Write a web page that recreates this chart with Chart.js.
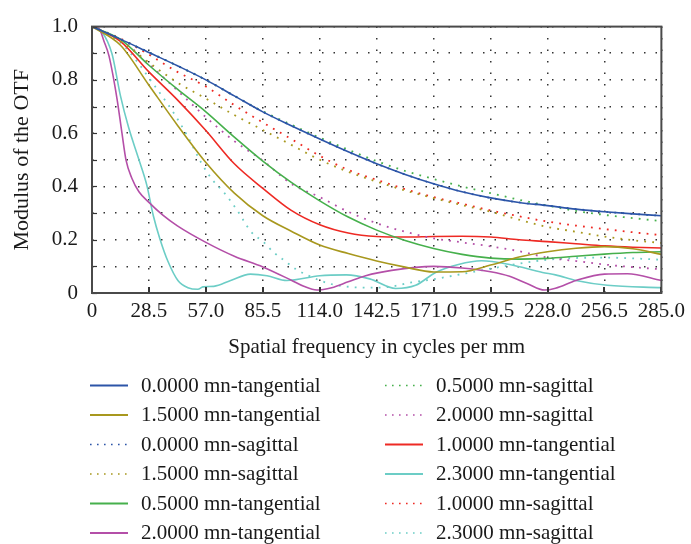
<!DOCTYPE html>
<html><head><meta charset="utf-8">
<script src="https://cdn.jsdelivr.net/npm/chart.js@4"></script>
<style>html,body{margin:0;padding:0;background:#fff}#wrap{width:691px;height:544px;position:relative}</style>
</head><body><div id="wrap"><canvas id="c" width="691" height="544"></canvas></div>
<script>
// ---------- tick labels ----------
const xTicks = [0, 28.5, 57, 85.5, 114, 142.5, 171, 199.5, 228, 256.5, 285];
const xTickLabels = ['0','28.5','57.0','85.5','114.0','142.5','171.0','199.5','228.0','256.5','285.0'];
const yTicks = [0, 0.1, 0.2, 0.3, 0.4, 0.5, 0.6, 0.7, 0.8, 0.9, 1.0];
const yTickLabels = ['0','','0.2','','0.4','','0.6','','0.8','','1.0'];
const xTitle = 'Spatial frequency in cycles per mm';
const yTitle = 'Modulus of the OTF';

// ---------- series labels ----------
const seriesLabels = [
  '0.0000 mn-tangential', '1.5000 mn-tangential', '0.0000 mn-sagittal',
  '1.5000 mn-sagittal', '0.5000 mn-tangential', '2.0000 mn-tangential',
  '0.5000 mn-sagittal', '2.0000 mn-sagittal', '1.0000 mn-tangential',
  '2.3000 mn-tangential', '1.0000 mn-sagittal', '2.3000 mn-sagittal'
];

// ---------- frequencies (cycles/mm) ----------
const freqA = [0,14.25,28.5,42.75,57,71.25,85.5,99.75,114,128.25,142.5,156.75,171,185.25,199.5,213.75,228,242.25,256.5,270.75,285];
const freqM = [0,3.5,6,8.5,12.5,15,17,20,23.5,28.5,35,42.75,57,71.25,85.5,99.75,106,112.5,120,128.25,137,150,171,185.25,199.5,209,218,226.5,232,242.25,256.5,268,285];
const freqC = [0,5,10,14.25,18.3,23.3,27.4,30.7,34,38,43,48,53,55.5,61,69.4,79.3,87.6,97.5,114,127.3,139,152,162,172,183.4,195,209,225.5,232,242.25,258,285];
const freqCS = [0,14.25,23.3,29,34.8,41.4,48,54.6,60.4,66.1,72.7,79.3,86,91,96.6,102,107.5,119,129,139,149,160,172,185,195,213.75,228,256.5,285];

// ---------- MTF values ----------
const t00 = [1.0,0.953,0.903,0.853,0.80,0.74,0.68,0.628,0.578,0.53,0.485,0.445,0.41,0.38,0.357,0.34,0.328,0.315,0.305,0.297,0.29];
const s00 = [1.0,0.953,0.903,0.853,0.80,0.74,0.68,0.628,0.578,0.53,0.485,0.445,0.41,0.38,0.357,0.34,0.328,0.315,0.305,0.297,0.29];
const t05 = [1.0,0.952,0.855,0.765,0.68,0.585,0.495,0.415,0.346,0.285,0.236,0.197,0.167,0.145,0.131,0.127,0.13,0.138,0.146,0.152,0.155];
const s05 = [1.0,0.953,0.903,0.853,0.80,0.74,0.682,0.632,0.583,0.538,0.495,0.458,0.428,0.40,0.375,0.35,0.328,0.308,0.293,0.281,0.27];
const t10 = [1.0,0.945,0.83,0.725,0.61,0.485,0.393,0.31,0.256,0.225,0.212,0.21,0.212,0.213,0.21,0.2,0.193,0.185,0.177,0.172,0.169];
const s10 = [1.0,0.955,0.895,0.83,0.775,0.705,0.64,0.578,0.515,0.462,0.425,0.39,0.36,0.335,0.31,0.288,0.268,0.253,0.24,0.228,0.217];
const t15 = [1.0,0.93,0.78,0.63,0.49,0.375,0.29,0.232,0.18,0.148,0.12,0.097,0.079,0.08,0.105,0.135,0.155,0.168,0.174,0.166,0.145];
const s15 = [1.0,0.945,0.865,0.79,0.73,0.668,0.612,0.556,0.50,0.455,0.418,0.385,0.356,0.33,0.305,0.275,0.248,0.23,0.212,0.198,0.188];
const t20 = [1.0,0.993,0.945,0.89,0.73,0.60,0.50,0.43,0.38,0.34,0.295,0.252,0.19,0.138,0.098,0.048,0.025,0.011,0.02,0.042,0.065,0.085,0.10,0.094,0.08,0.063,0.035,0.011,0.018,0.047,0.071,0.072,0.047];
const s20 = [1.0,0.952,0.86,0.76,0.66,0.57,0.497,0.41,0.36,0.305,0.262,0.23,0.205,0.19,0.175,0.157,0.133,0.12,0.107,0.097,0.089];
const t23 = [1.0,0.98,0.898,0.74,0.622,0.505,0.406,0.29,0.203,0.119,0.047,0.02,0.014,0.023,0.025,0.047,0.071,0.065,0.047,0.065,0.068,0.053,0.017,0.029,0.077,0.107,0.121,0.107,0.077,0.068,0.047,0.029,0.02];
const s23 = [1.0,0.94,0.862,0.802,0.742,0.67,0.586,0.49,0.424,0.377,0.31,0.233,0.19,0.152,0.12,0.09,0.068,0.035,0.023,0.02,0.023,0.04,0.053,0.071,0.085,0.11,0.125,0.133,0.125];

// ---------- styling ----------
const C = { blue:'#2c55a8', olive:'#a8981e', green:'#46b04c', magenta:'#b44fa8', red:'#ee2a24', cyan:'#6ccdc6' };
const FONT = 'Liberation Serif';
const DOT = [1.8, 6.2];

function pts(fx, ys) { return fx.map((x, i) => ({ x: x, y: ys[i] })); }
function ds(label, fx, ys, color, dotted) {
  return {
    label: label, data: pts(fx, ys), borderColor: color, backgroundColor: color,
    borderWidth: dotted ? 1.8 : 1.6, borderDash: dotted ? DOT : [],
    pointRadius: 0, fill: false, cubicInterpolationMode: 'monotone', _dotted: dotted
  };
}

const datasets = [
  ds(seriesLabels[0], freqA, t00, C.blue, false),
  ds(seriesLabels[1], freqA, t15, C.olive, false),
  ds(seriesLabels[2], freqA, s00, C.blue, true),
  ds(seriesLabels[3], freqA, s15, C.olive, true),
  ds(seriesLabels[4], freqA, t05, C.green, false),
  ds(seriesLabels[5], freqM, t20, C.magenta, false),
  ds(seriesLabels[6], freqA, s05, C.green, true),
  ds(seriesLabels[7], freqA, s20, C.magenta, true),
  ds(seriesLabels[8], freqA, t10, C.red, false),
  ds(seriesLabels[9], freqC, t23, C.cyan, false),
  ds(seriesLabels[10], freqA, s10, C.red, true),
  ds(seriesLabels[11], freqCS, s23, C.cyan, true)
];

const framePlugin = {
  id: 'frame',
  afterDatasetsDraw(chart) {
    const { ctx, chartArea: a } = chart;
    const xs = chart.scales.x, ys = chart.scales.y;
    ctx.save();
    ctx.setLineDash([]);
    ctx.strokeStyle = '#333';
    ctx.lineWidth = 2;
    xTicks.forEach(v => {
      const px = Math.round(xs.getPixelForValue(v));
      ctx.beginPath(); ctx.moveTo(px, a.bottom); ctx.lineTo(px, a.bottom - 6); ctx.stroke();
    });
    ctx.lineWidth = 1.2;
    yTicks.forEach(v => {
      const py = Math.round(ys.getPixelForValue(v)) + 0.5;
      ctx.beginPath(); ctx.moveTo(a.left, py); ctx.lineTo(a.left + 5, py); ctx.stroke();
    });
    ctx.strokeStyle = '#4a4a4a';
    ctx.lineWidth = 2;
    ctx.strokeRect(a.left, a.top, a.right - a.left, a.bottom - a.top);
    ctx.restore();
  }
};

const legendPlugin = {
  id: 'colLegend',
  afterDraw(chart) {
    const ctx = chart.ctx;
    ctx.save();
    chart.data.datasets.forEach((d, i) => {
      const col = Math.floor(i / 6), row = i % 6;
      const x0 = col === 0 ? 90 : 385;
      const y = 385 + row * 29.5;
      ctx.strokeStyle = d.borderColor;
      ctx.lineWidth = d._dotted ? 1.6 : 2;
      ctx.setLineDash(d._dotted ? [1.6, 5.4] : []);
      ctx.beginPath(); ctx.moveTo(x0, y + 0.5); ctx.lineTo(x0 + 38, y + 0.5); ctx.stroke();
      ctx.setLineDash([]);
      ctx.fillStyle = '#1a1a1a';
      ctx.font = '21px "' + FONT + '"';
      ctx.textBaseline = 'middle';
      ctx.textAlign = 'left';
      ctx.fillText(d.label, x0 + 51, y + 1);
    });
    ctx.restore();
  }
};

new Chart(document.getElementById('c'), {
  type: 'line',
  data: { datasets: datasets },
  options: {
    responsive: false, animation: false, devicePixelRatio: 1,
    layout: { padding: { left: 0, top: 16, right: 25, bottom: 181 } },
    plugins: { legend: { display: false }, tooltip: { enabled: false } },
    scales: {
      x: {
        type: 'linear', min: 0, max: 285,
        afterBuildTicks: s => { s.ticks = xTicks.map(v => ({ value: v })); },
        afterFit: s => { s.height = 70; },
        ticks: { autoSkip: false, maxRotation: 0, padding: 6, color: '#1a1a1a',
                 font: { family: FONT, size: 21 }, callback: (v, i) => xTickLabels[i] },
        grid: { color: '#333', lineWidth: 1.5, drawTicks: false },
        border: { display: false, dash: [1.5, 10] },
        title: { display: true, text: xTitle, color: '#1a1a1a', font: { family: FONT, size: 21 },
                 padding: { top: 0, bottom: 3 } }
      },
      y: {
        type: 'linear', min: 0, max: 1,
        afterBuildTicks: s => { s.ticks = yTicks.map(v => ({ value: v })); },
        afterFit: s => { s.width = 92; },
        ticks: { autoSkip: false, padding: 14, color: '#1a1a1a',
                 font: { family: FONT, size: 21 }, callback: (v, i) => yTickLabels[i] },
        grid: { color: '#333', lineWidth: 1.5, drawTicks: false },
        border: { display: false, dash: [1.5, 10] },
        title: { display: true, text: yTitle, color: '#1a1a1a', font: { family: FONT, size: 22 },
                 padding: { top: 9, bottom: 0 } }
      }
    }
  },
  plugins: [framePlugin, legendPlugin]
});
</script></body></html>
